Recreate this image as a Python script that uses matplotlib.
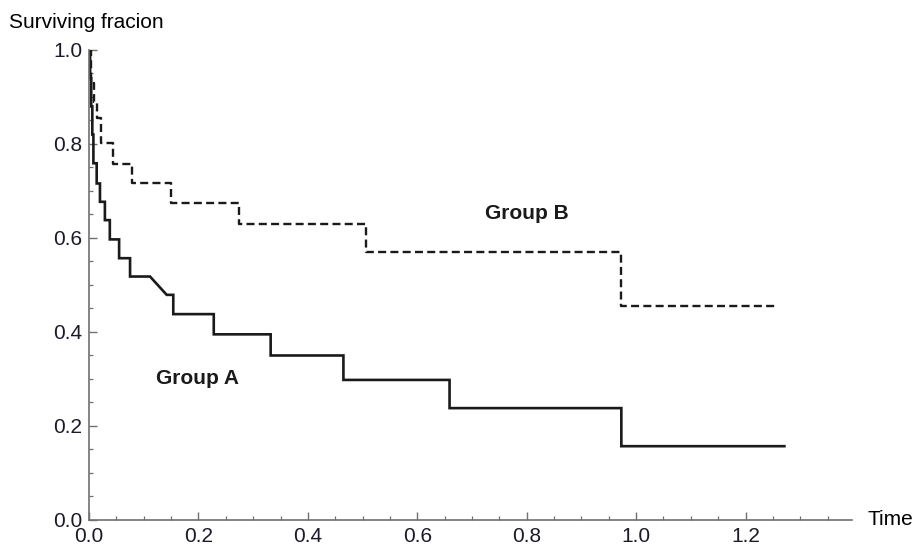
import numpy as np
import matplotlib.pyplot as plt
from matplotlib.ticker import MultipleLocator

# Group A (solid) - vertices of the survival curve
a_time = [0.0, 0.002, 0.002, 0.004, 0.004, 0.006, 0.006, 0.008, 0.008, 0.014, 0.014,
          0.020, 0.020, 0.029, 0.029, 0.038, 0.038, 0.055, 0.055, 0.075, 0.075,
          0.1115, 0.142, 0.154, 0.154, 0.228, 0.228, 0.332, 0.332, 0.465, 0.465,
          0.659, 0.659, 0.973, 0.973, 1.271]
a_surv = [1.0, 1.0, 0.94, 0.94, 0.88, 0.88, 0.82, 0.82, 0.759, 0.759, 0.716,
          0.716, 0.677, 0.677, 0.638, 0.638, 0.597, 0.597, 0.557, 0.557, 0.518,
          0.518, 0.479, 0.479, 0.438, 0.438, 0.395, 0.395, 0.350, 0.350, 0.298,
          0.298, 0.238, 0.238, 0.157, 0.157]

# Group B (dashed) - event times and survival after each event
b_time = [0.0, 0.004, 0.009, 0.014, 0.021, 0.043, 0.078, 0.150, 0.275, 0.506, 0.973, 1.255]
b_surv = [1.0, 0.93, 0.89, 0.855, 0.802, 0.757, 0.716, 0.675, 0.629, 0.570, 0.455, 0.455]

plt.rcParams['font.family'] = ['Liberation Sans', 'DejaVu Sans']
fs = 15

fig = plt.figure(figsize=(9.14, 5.47), dpi=100)
ax = fig.add_axes([0.0974, 0.0494, 0.8344, 0.8592])

line_col = '#1a1a1a'
ax.plot(a_time, a_surv, color=line_col, lw=1.9, solid_joinstyle='miter')
ax.plot(b_time, b_surv, color=line_col, lw=1.7, drawstyle='steps-post',
        linestyle=(0, (3.4, 1.8)))

ax.set_xlim(0, 1.394)
ax.set_ylim(0, 1.0)

ax.xaxis.set_major_locator(MultipleLocator(0.2))
ax.xaxis.set_minor_locator(MultipleLocator(0.05))
ax.yaxis.set_major_locator(MultipleLocator(0.2))
ax.yaxis.set_minor_locator(MultipleLocator(0.05))
ax.xaxis.set_major_formatter(lambda v, p: f'{v:.1f}')
ax.yaxis.set_major_formatter(lambda v, p: f'{v:.1f}')

axis_col = '#707070'
for s in ['top', 'right']:
    ax.spines[s].set_visible(False)
for s in ['left', 'bottom']:
    ax.spines[s].set_color(axis_col)
    ax.spines[s].set_linewidth(1.2)

ax.tick_params(which='both', direction='in', color=axis_col, labelsize=fs,
               labelcolor='#1a1a2a')
ax.tick_params(which='major', length=5.5, width=1.0)
ax.tick_params(which='minor', length=3.0, width=0.9)
ax.tick_params(axis='x', pad=5)
ax.tick_params(axis='y', pad=5)

ax.text(0.80, 0.653, 'Group B', fontsize=fs, fontweight='bold',
        ha='center', va='center', color='#1a1a1a')
ax.text(0.199, 0.302, 'Group A', fontsize=fs, fontweight='bold',
        ha='center', va='center', color='#1a1a1a')

ax.annotate('Time', xy=(1, 0), xycoords='axes fraction', xytext=(11.5, 0),
            textcoords='offset points', ha='left', va='center', fontsize=fs)
fig.text(9 / 914, 1 - 22 / 547, 'Surviving fracion', fontsize=fs,
         ha='left', va='center')

fig.savefig('out.png', dpi=100)
